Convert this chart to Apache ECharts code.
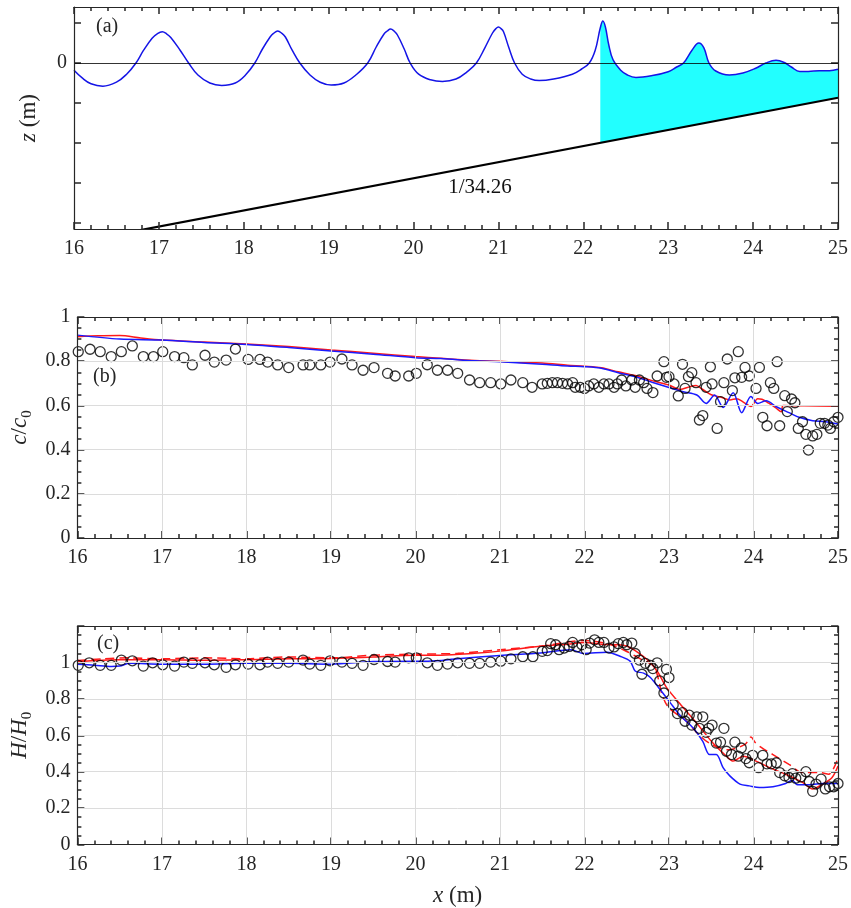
<!DOCTYPE html>
<html><head><meta charset="utf-8">
<script src="https://cdn.jsdelivr.net/npm/echarts@6/dist/echarts.min.js"></script>
<style>html,body{margin:0;padding:0;background:#fff}#c{width:851px;height:908px}</style>
</head><body><div id="c"></div>
<script>
const FONT = 'Liberation Serif';
const INK = '#262626';
const X_RANGE = [16, 25];
const xMajor = [16, 17, 18, 19, 20, 21, 22, 23, 24, 25];

// ---------- panel (a): free surface and bed ----------
const waveX = [16.00,16.10,16.20,16.34,16.50,16.62,16.73,16.82,16.92,16.98,17.04,17.09,17.14,17.25,17.35,17.46,17.60,17.74,17.90,18.02,18.13,18.22,18.31,18.35,18.40,18.45,18.49,18.57,18.66,18.78,18.90,19.03,19.18,19.32,19.46,19.56,19.65,19.69,19.73,19.77,19.81,19.89,19.96,20.06,20.20,20.34,20.50,20.63,20.74,20.84,20.93,20.97,21.00,21.03,21.06,21.12,21.19,21.28,21.38,21.48,21.65,21.87,21.98,22.07,22.14,22.20,22.23,22.26,22.30,22.35,22.44,22.52,22.62,22.80,23.00,23.10,23.18,23.28,23.36,23.42,23.48,23.56,23.72,23.88,24.03,24.15,24.27,24.36,24.45,24.55,24.65,24.78,24.90,25.00];
const waveZ = [-0.009,-0.019,-0.026,-0.029,-0.024,-0.014,0,0.016,0.031,0.0365,0.039,0.0365,0.032,0.016,0,-0.015,-0.025,-0.028,-0.025,-0.015,0,0.0175,0.0325,0.037,0.040,0.037,0.0325,0.016,0,-0.015,-0.024,-0.0275,-0.025,-0.015,0,0.020,0.036,0.040,0.0425,0.040,0.035,0.0175,0,-0.014,-0.021,-0.023,-0.020,-0.011,0,0.019,0.0375,0.043,0.045,0.043,0.039,0.020,0,-0.014,-0.020,-0.022,-0.020,-0.014,-0.0075,0,0.016,0.044,0.0525,0.045,0.0225,0.004,-0.009,-0.015,-0.018,-0.016,-0.011,-0.005,0,0.016,0.025,0.019,0,-0.010,-0.015,-0.0125,-0.0066,0,0.0034,0.001,-0.005,-0.0106,-0.0106,-0.0096,-0.0097,-0.0079];
const bedX = [16.0, 25.0];
const bedZ = [-0.2246, -0.0434];
const fillStartX = 22.2;
const zRange = [-0.2075, 0.07];
const zTicks = [-0.2, -0.15, -0.1, -0.05, 0, 0.05];
const zLabels = [0];
const slopeText = '1/34.26';

// ---------- panel (b): celerity ----------
const cTicks = [0, 0.2, 0.4, 0.6, 0.8, 1];
const cExpX = [16.01,16.15,16.27,16.40,16.52,16.65,16.78,16.90,17.01,17.15,17.26,17.36,17.51,17.62,17.76,17.87,18.02,18.16,18.25,18.37,18.50,18.67,18.75,18.88,18.99,19.13,19.25,19.38,19.51,19.67,19.76,19.92,20.01,20.14,20.26,20.38,20.50,20.64,20.76,20.89,21.01,21.13,21.27,21.38,21.50,21.56,21.62,21.68,21.74,21.80,21.86,21.89,21.95,22.00,22.05,22.11,22.17,22.23,22.29,22.35,22.39,22.44,22.49,22.56,22.60,22.65,22.70,22.74,22.81,22.86,22.94,22.97,23.00,23.06,23.11,23.16,23.19,23.23,23.27,23.32,23.36,23.40,23.44,23.49,23.51,23.57,23.61,23.65,23.69,23.75,23.78,23.82,23.86,23.90,23.95,24.03,24.07,24.11,24.16,24.20,24.24,24.28,24.31,24.37,24.40,24.45,24.49,24.53,24.58,24.62,24.65,24.70,24.75,24.79,24.84,24.88,24.91,24.95,25.00];
const cExpY = [0.843,0.854,0.843,0.821,0.843,0.869,0.821,0.821,0.843,0.821,0.816,0.783,0.827,0.796,0.805,0.855,0.808,0.808,0.796,0.783,0.771,0.783,0.783,0.783,0.796,0.810,0.783,0.759,0.771,0.745,0.733,0.733,0.745,0.784,0.759,0.759,0.745,0.715,0.703,0.703,0.697,0.715,0.703,0.682,0.697,0.700,0.703,0.703,0.700,0.697,0.703,0.682,0.682,0.677,0.688,0.697,0.682,0.697,0.697,0.682,0.697,0.715,0.688,0.715,0.682,0.715,0.703,0.677,0.658,0.733,0.798,0.727,0.730,0.697,0.643,0.786,0.677,0.730,0.748,0.703,0.534,0.554,0.682,0.775,0.697,0.496,0.617,0.703,0.810,0.667,0.725,0.843,0.727,0.772,0.733,0.677,0.772,0.546,0.508,0.703,0.677,0.798,0.508,0.644,0.572,0.629,0.612,0.496,0.526,0.469,0.398,0.462,0.469,0.519,0.519,0.511,0.496,0.526,0.546];
const cRed = [[16.0,0.911],[16.25,0.915],[16.5,0.916],[16.75,0.905],[17.0,0.896],[17.5,0.887],[18.0,0.878],[18.5,0.866],[19.0,0.851],[19.5,0.836],[20.0,0.821],[20.3,0.813],[20.7,0.803],[21.0,0.800],[21.2,0.795],[21.5,0.792],[21.8,0.782],[22.0,0.777],[22.2,0.770],[22.4,0.752],[22.6,0.735],[22.8,0.712],[23.0,0.692],[23.13,0.672],[23.25,0.685],[23.32,0.69],[23.40,0.672],[23.50,0.648],[23.62,0.637],[23.72,0.625],[23.80,0.63],[23.88,0.615],[23.97,0.595],[24.05,0.63],[24.10,0.628],[24.18,0.61],[24.26,0.59],[24.33,0.571],[24.35,0.60],[24.6,0.598],[25.0,0.596]];
const cBlue = [[16.0,0.918],[16.5,0.90],[17.0,0.896],[17.5,0.885],[18.0,0.876],[18.5,0.862],[19.0,0.846],[19.5,0.832],[20.0,0.816],[20.3,0.812],[20.7,0.802],[21.0,0.798],[21.5,0.786],[21.8,0.778],[22.0,0.775],[22.2,0.768],[22.4,0.748],[22.6,0.73],[22.8,0.705],[23.01,0.68],[23.17,0.662],[23.33,0.647],[23.44,0.609],[23.54,0.647],[23.64,0.591],[23.76,0.657],[23.86,0.567],[23.97,0.64],[24.05,0.609],[24.15,0.621],[24.27,0.594],[24.42,0.567],[24.54,0.546],[24.70,0.531],[24.85,0.526],[25.0,0.516]];

// ---------- panel (c): wave height ----------
const hTicks = [0, 0.2, 0.4, 0.6, 0.8, 1, 1.2];
const hExpX = [16.01,16.14,16.27,16.40,16.52,16.65,16.78,16.89,17.01,17.15,17.26,17.36,17.51,17.62,17.76,17.87,18.02,18.16,18.25,18.37,18.50,18.67,18.75,18.88,18.99,19.13,19.25,19.38,19.51,19.67,19.76,19.92,20.01,20.14,20.26,20.38,20.50,20.64,20.76,20.89,21.01,21.13,21.27,21.39,21.50,21.56,21.60,21.66,21.70,21.76,21.82,21.86,21.91,21.97,22.02,22.06,22.12,22.17,22.23,22.29,22.35,22.40,22.46,22.50,22.56,22.60,22.65,22.68,22.72,22.78,22.81,22.86,22.89,22.94,22.97,23.00,23.05,23.10,23.16,23.19,23.24,23.27,23.33,23.36,23.40,23.44,23.47,23.51,23.56,23.61,23.65,23.68,23.74,23.78,23.82,23.855,23.91,23.95,23.99,24.06,24.11,24.16,24.21,24.27,24.31,24.37,24.42,24.46,24.50,24.56,24.62,24.66,24.70,24.74,24.80,24.85,24.90,24.95,25.00];
const hExpY = [0.984,0.998,0.984,0.984,1.013,1.009,0.980,0.998,0.987,0.980,1.002,0.995,0.998,0.987,0.973,0.987,0.991,0.987,1.002,0.995,1.002,1.013,0.991,0.984,1.009,1.002,0.995,0.984,1.016,1.005,1.002,1.025,1.025,0.998,0.984,0.991,0.998,0.995,0.995,1.002,1.007,1.020,1.031,1.031,1.061,1.065,1.103,1.097,1.070,1.079,1.088,1.110,1.085,1.097,1.070,1.106,1.124,1.110,1.110,1.079,1.085,1.103,1.110,1.097,1.106,1.049,1.013,0.935,0.995,0.984,0.966,0.998,0.899,0.832,0.962,0.917,0.768,0.719,0.724,0.677,0.710,0.656,0.701,0.638,0.701,0.616,0.638,0.656,0.557,0.562,0.638,0.512,0.494,0.562,0.485,0.530,0.472,0.449,0.490,0.422,0.490,0.443,0.443,0.449,0.395,0.377,0.368,0.389,0.364,0.371,0.400,0.346,0.292,0.332,0.359,0.305,0.317,0.317,0.335];
const hBlue = [[16.0,0.99],[16.2,0.985],[16.4,0.978],[16.5,0.98],[16.62,0.995],[17.0,0.99],[17.5,0.99],[18.0,0.995],[18.5,0.995],[19.0,0.99],[19.5,1.005],[20.0,1.007],[20.15,1.007],[20.5,1.02],[21.0,1.038],[21.48,1.052],[21.84,1.07],[21.99,1.049],[22.27,1.056],[22.42,1.034],[22.54,1.007],[22.60,0.953],[22.70,0.941],[22.78,0.917],[22.89,0.854],[23.01,0.782],[23.13,0.710],[23.29,0.638],[23.40,0.566],[23.48,0.494],[23.56,0.494],[23.64,0.422],[23.72,0.377],[23.84,0.332],[23.95,0.322],[24.07,0.313],[24.23,0.317],[24.38,0.335],[24.46,0.353],[24.52,0.328],[24.62,0.328],[24.82,0.335],[25.0,0.335]];
const hRed = [[16.0,1.005],[16.5,1.015],[17.0,1.015],[17.5,1.012],[18.0,1.015],[18.5,1.02],[19.0,1.022],[19.5,1.03],[20.0,1.04],[20.3,1.04],[20.7,1.05],[21.0,1.062],[21.5,1.09],[21.8,1.10],[22.0,1.11],[22.2,1.10],[22.4,1.097],[22.5,1.09],[22.6,1.065],[22.74,1.016],[22.86,0.953],[22.97,0.863],[23.13,0.773],[23.33,0.665],[23.52,0.557],[23.68,0.485],[23.76,0.458],[23.88,0.485],[24.03,0.458],[24.19,0.422],[24.38,0.386],[24.58,0.341],[24.70,0.305],[24.82,0.332],[24.93,0.368],[25.0,0.431]];
const hRedDash = [[16.0,1.01],[16.3,1.02],[16.6,1.025],[17.0,1.02],[17.5,1.025],[18.0,1.02],[18.5,1.03],[19.0,1.025],[19.5,1.04],[20.0,1.045],[20.5,1.05],[21.0,1.07],[21.5,1.09],[22.0,1.12],[22.3,1.10],[22.5,1.06],[22.7,1.01],[22.82,0.98],[22.88,0.90],[22.92,0.82],[23.0,0.75],[23.2,0.68],[23.36,0.60],[23.5,0.55],[23.7,0.52],[23.9,0.55],[23.97,0.59],[24.02,0.56],[24.1,0.53],[24.23,0.494],[24.42,0.44],[24.58,0.395],[24.78,0.395],[24.89,0.386],[25.0,0.476]];

// ---------- build ----------
const zip = (xs, ys) => xs.map((x, i) => [x, ys[i]]);
const r4 = v => Math.round(v * 10000) / 10000;
const minorsOf = (major, n) => {
  const out = [];
  for (let i = 0; i < major.length - 1; i++) {
    const step = (major[i + 1] - major[i]) / n;
    for (let k = 1; k < n; k++) out.push(r4(major[i] + k * step));
  }
  return out;
};
const waveFill = zip(waveX, waveZ).filter(p => p[0] >= fillStartX);

const GRIDS = [
  { left: 74, top: 7, width: 765, height: 222 },
  { left: 74, top: 317, width: 765, height: 221 },
  { left: 74, top: 626, width: 765, height: 222 }
];
const xMinor = minorsOf(xMajor, 5);
const panels = [
  { yr: zRange, yMaj: zTicks, yMin: [], labelValues: zLabels, name: '{i|z}{n| (m)}', gap: 30, split: false, xname: '' },
  { yr: [0, 1], interval: 0.2, yMaj: cTicks, yMin: minorsOf(cTicks, 4), name: '{i|c}{n|/}{i|c}{s|0}', gap: 37, split: true, xname: '' },
  { yr: [0, 1.2], interval: 0.2, yMaj: hTicks, yMin: minorsOf(hTicks, 4), hideMax: true, name: '{i|H}{n|/}{i|H}{s|0}', gap: 37, split: true, xname: '{i|x}{n| (m)}' }
];

// inward tick marks on all four sides, built from the tick value lists
function tickMarks(g) {
  const p = panels[g], G = GRIDS[g];
  const dx = (X_RANGE[1] - X_RANGE[0]) / G.width, dy = (p.yr[1] - p.yr[0]) / G.height;
  const segs = [];
  const seg = (a, b) => segs.push([{ coord: a }, { coord: b }]);
  const xs = (list, L) => list.forEach(x => { seg([x, p.yr[0]], [x, p.yr[0] + L * dy]); seg([x, p.yr[1]], [x, p.yr[1] - L * dy]); });
  const ys = (list, L) => list.forEach(y => { seg([X_RANGE[0], y], [X_RANGE[0] + L * dx, y]); seg([X_RANGE[1], y], [X_RANGE[1] - L * dx, y]); });
  xs(xMajor, 7); xs(xMinor, 4); ys(p.yMaj, 7); ys(p.yMin, 4);
  return segs;
}
const markTicks = (g, extraData) => ({
  silent: true, symbol: ['none', 'none'], label: { show: false }, animation: false,
  lineStyle: { color: '#333', width: 1.6, type: 'solid', opacity: 1 },
  emphasis: { disabled: true },
  data: tickMarks(g).concat(extraData || [])
});

const nameStyle = () => ({
  fontFamily: FONT, fontSize: 22, color: INK,
  rich: {
    i: { fontStyle: 'italic', fontFamily: FONT, fontSize: 23, color: INK, lineHeight: 30 },
    n: { fontFamily: FONT, fontSize: 23, color: INK, lineHeight: 30 },
    s: { fontFamily: FONT, fontSize: 15, color: INK, lineHeight: 14, verticalAlign: 'bottom' }
  }
});
function axis(kind, g, pos, main) {
  const p = panels[g];
  const a = {
    type: 'value', gridIndex: g, position: pos, z: 10,
    axisLine: { show: true, onZero: false, lineStyle: { color: INK, width: 1.2 } },
    axisTick: { show: false },
    splitLine: { show: main && p.split, lineStyle: { color: '#dcdcdc', width: 1 } },
    axisLabel: { show: main, margin: kind === 'x' ? 10 : 7, fontFamily: FONT, fontSize: 20, color: INK }
  };
  if (kind === 'x') {
    a.min = X_RANGE[0]; a.max = X_RANGE[1]; a.interval = 1;
    if (main && p.xname) { a.name = p.xname; a.nameLocation = 'middle'; a.nameGap = 36; a.nameTextStyle = nameStyle(); }
  } else {
    a.min = p.yr[0]; a.max = p.yr[1];
    if (p.interval) a.interval = p.interval;
    if (p.labelValues) a.axisLabel.customValues = p.labelValues;
    if (p.hideMax) a.axisLabel.showMaxLabel = false;
    if (main) { a.name = p.name; a.nameLocation = 'middle'; a.nameGap = p.gap; a.nameTextStyle = nameStyle(); }
  }
  return a;
}
const xAxes = [], yAxes = [];
panels.forEach((p, g) => {
  xAxes.push(axis('x', g, 'bottom', true), axis('x', g, 'top', false));
  yAxes.push(axis('y', g, 'left', true), axis('y', g, 'right', false));
});
const XI = g => 2 * g, YI = g => 2 * g;

const circle = (g, data) => ({
  type: 'scatter', xAxisIndex: XI(g), yAxisIndex: YI(g), data, symbol: 'circle', symbolSize: 10,
  itemStyle: { color: 'rgba(0,0,0,0)', borderColor: '#000', borderWidth: 1.3 }, z: 5
});
const line = (g, data, color, extra) => Object.assign({
  type: 'line', xAxisIndex: XI(g), yAxisIndex: YI(g), data, showSymbol: false, symbol: 'none',
  smooth: 0.3, lineStyle: { color, width: 1.5 }, z: 3
}, extra || {});

const option = {
  animation: false,
  backgroundColor: '#fff',
  grid: GRIDS,
  xAxis: xAxes,
  yAxis: yAxes,
  series: [
    line(0, waveFill, '#22ffff', { smooth: 0.4, z: 1, lineStyle: { opacity: 0 },
      areaStyle: { color: '#22ffff', opacity: 1, origin: 'start' } }),
    line(0, zip(bedX, bedZ), '#000', { smooth: false, z: 2, lineStyle: { color: '#000', width: 2.2 },
      areaStyle: { color: '#ffffff', opacity: 1, origin: 'start' } }),
    line(0, zip(waveX, waveZ), '#1414e6', { smooth: 0.4, z: 3,
      markLine: markTicks(0, [{ yAxis: 0, lineStyle: { color: '#000', width: 0.8, type: 'solid' } }]) }),
    line(1, cRed, '#ff1a1a', { markLine: markTicks(1) }),
    line(1, cBlue, '#1a1aff'),
    circle(1, zip(cExpX, cExpY)),
    line(2, hRedDash, '#ff1a1a', { lineStyle: { color: '#ff1a1a', width: 1.5, type: [9, 5] } }),
    line(2, hRed, '#ff1a1a', { markLine: markTicks(2) }),
    line(2, hBlue, '#1a1aff'),
    circle(2, zip(hExpX, hExpY))
  ],
  graphic: [
    { type: 'text', z: 100, left: 96, top: 17, style: { text: '(a)', font: '20px "Liberation Serif"', fill: INK } },
    { type: 'text', z: 100, left: 93, top: 367, style: { text: '(b)', font: '20px "Liberation Serif"', fill: INK } },
    { type: 'text', z: 100, left: 97, top: 634, style: { text: '(c)', font: '20px "Liberation Serif"', fill: INK } },
    { type: 'text', z: 100, x: 480, y: 187, style: { text: slopeText, font: '21px "Liberation Serif"', fill: '#111', align: 'center', verticalAlign: 'middle' } }
  ]
};
const chart = echarts.init(document.getElementById('c'));
chart.setOption(option);
</script>
</body></html>
